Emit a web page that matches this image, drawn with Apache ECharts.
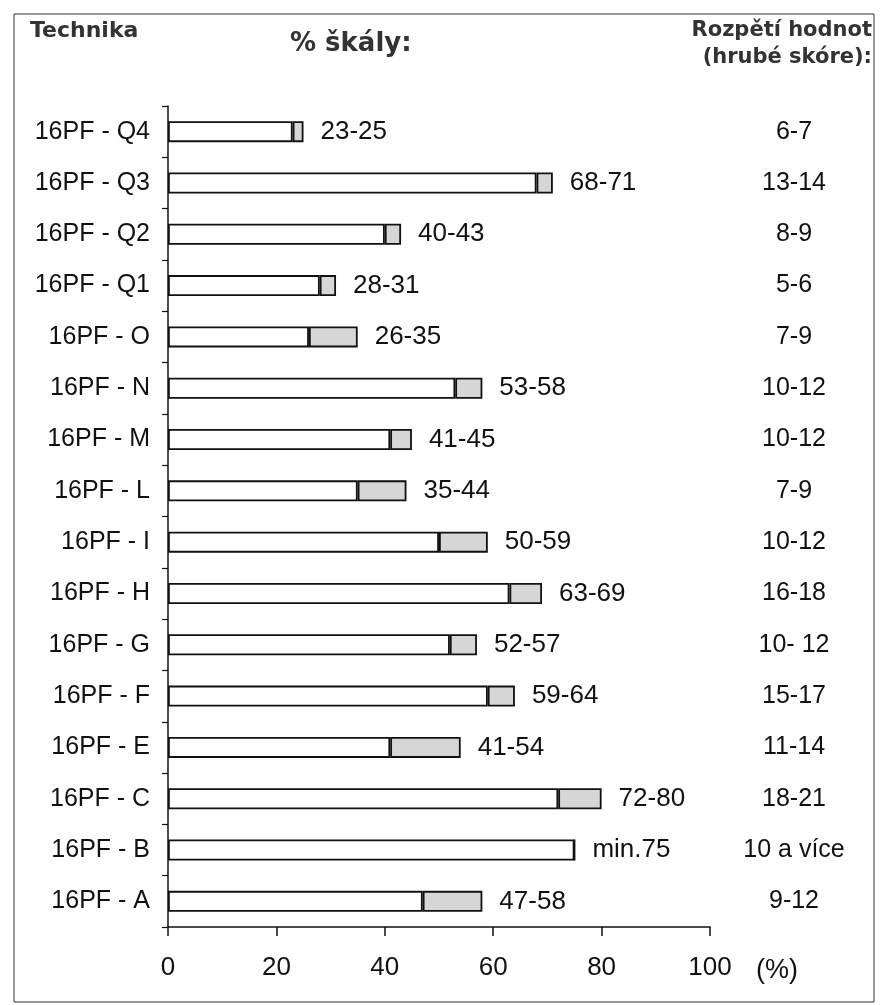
<!DOCTYPE html>
<html><head><meta charset="utf-8">
<script src="https://cdn.jsdelivr.net/npm/echarts@6/dist/echarts.min.js"></script>
<style>html,body{margin:0;padding:0;background:#fff}#c{width:886px;height:1005px}</style>
</head><body><div id="c"></div>
<script>
// categories bottom -> top
const categories = ['16PF - A','16PF - B','16PF - C','16PF - E','16PF - F','16PF - G','16PF - H','16PF - I','16PF - L','16PF - M','16PF - N','16PF - O','16PF - Q1','16PF - Q2','16PF - Q3','16PF - Q4'];
const lowValues  = [47,75,72,41,59,52,63,50,35,41,53,26,28,40,68,23];
const highValues = [58,75,80,54,64,57,69,59,44,45,58,35,31,43,71,25];
const rawScoreRanges = ['9-12','10 a více','18-21','11-14','15-17','10- 12','16-18','10-12','7-9','10-12','10-12','7-9','5-6','8-9','13-14','6-7'];
const xTicks = [0,20,40,60,80,100];

const FONT = '"Liberation Sans", Arial, sans-serif';
const HFONT = '"DejaVu Sans", sans-serif';
const chart = echarts.init(document.getElementById('c'), null, {renderer:'canvas'});
const spanValues = highValues.map((h,i)=>h-lowValues[i]);
const rangeText = i => lowValues[i]===highValues[i] ? 'min.'+lowValues[i] : lowValues[i]+'-'+highValues[i];

chart.setOption({
  animation:false,
  backgroundColor:'#fff',
  textStyle:{fontFamily:FONT},
  grid:{left:168,right:176,top:106,bottom:78,containLabel:false},
  xAxis:{
    type:'value', min:xTicks[0], max:xTicks[xTicks.length-1], interval:20,
    axisLine:{show:true,lineStyle:{color:'#111',width:1.5}},
    axisTick:{show:true,inside:false,length:9,lineStyle:{color:'#111',width:1.5}},
    axisLabel:{fontSize:26,color:'#111',margin:28,fontFamily:FONT},
    splitLine:{show:false},
    name:'(%)', nameLocation:'end', nameGap:46,
    nameTextStyle:{fontSize:27,color:'#111',fontFamily:FONT,verticalAlign:'top',padding:[30,0,0,0]}
  },
  yAxis:[{
    type:'category', data:categories,
    axisLine:{show:true,lineStyle:{color:'#111',width:1.5}},
    axisTick:{show:true,inside:false,length:6,lineStyle:{color:'#111',width:1.2}},
    axisLabel:{fontSize:25,color:'#111',margin:18,fontFamily:FONT}
  },{
    type:'category', data:categories, position:'right',
    axisLine:{show:false}, axisTick:{show:false},
    axisLabel:{fontSize:25,color:'#111',margin:84,align:'center',fontFamily:FONT,
      formatter:(v,i)=>rawScoreRanges[i]}
  }],
  series:[{
    type:'bar', stack:'r', yAxisIndex:0, barWidth:21, data:lowValues,
    itemStyle:{color:'#fff',borderColor:'#111',borderWidth:1.8}
  },{
    type:'bar', stack:'r', yAxisIndex:0, barWidth:21, data:spanValues,
    itemStyle:{color:'#d6d6d6',borderColor:'#111',borderWidth:1.8},
    label:{show:true,position:'right',distance:17,fontSize:26,color:'#111',fontFamily:FONT,
      formatter:p=>rangeText(p.dataIndex)}
  }],
  graphic:[
    {type:'rect',shape:{x:14,y:14,width:860,height:988},style:{fill:'none',stroke:'#333',lineWidth:1},silent:true},
    {type:'text',left:30,top:20,style:{text:'Technika',font:'bold 22px '+HFONT,fill:'#333'}},
    {type:'text',left:290,top:31,style:{text:'% škály:',font:'bold 26px '+HFONT,fill:'#333'}},
    {type:'text',right:14,top:20,style:{text:'Rozpětí hodnot',font:'bold 21px '+HFONT,fill:'#333'}},
    {type:'text',right:14,top:47,style:{text:'(hrubé skóre):',font:'bold 21px '+HFONT,fill:'#333'}}
  ]
});
</script></body></html>
